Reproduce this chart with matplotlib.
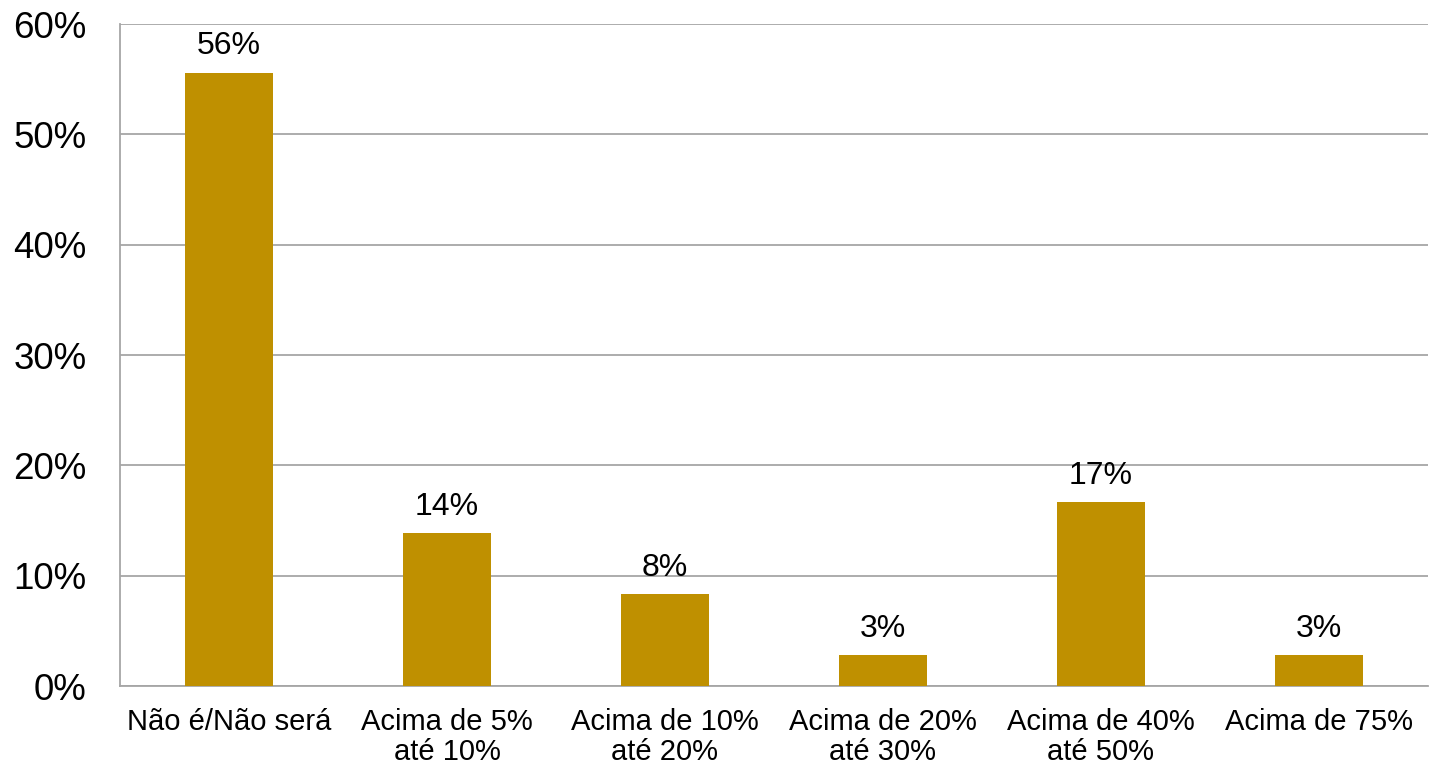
import matplotlib.pyplot as plt
from matplotlib.ticker import FuncFormatter

categories = ['Não é/Não será', 'Acima de 5%\naté 10%', 'Acima de 10%\naté 20%',
              'Acima de 20%\naté 30%', 'Acima de 40%\naté 50%', 'Acima de 75%']
values = [55.6, 13.9, 8.3, 2.8, 16.7, 2.8]
labels = ['56%', '14%', '8%', '3%', '17%', '3%']

plt.rcParams['font.family'] = ['Liberation Sans', 'DejaVu Sans']

fig = plt.figure(figsize=(14.3, 7.67), dpi=100)
ax = fig.add_axes([0.0839, 0.1056, 0.9147, 0.8631])

x = list(range(len(categories)))
ax.bar(x, values, width=0.4, color='#BF9000', zorder=3)
for i, v in enumerate(values):
    ax.annotate(labels[i], (i, v), xytext=(0, 13), textcoords='offset points',
                ha='center', va='baseline', fontsize=23)

ax.set_xlim(-0.5, len(categories) - 0.5)
ax.set_ylim(0, 60)
ax.set_yticks(range(0, 61, 10))
ax.yaxis.set_major_formatter(FuncFormatter(lambda v, p: f'{v:.0f}%'))
ax.set_xticks(x)
ax.set_xticklabels(categories, fontsize=21, linespacing=1.1)
ax.tick_params(axis='y', labelsize=26.5, length=0, pad=24)
ax.tick_params(axis='x', length=0, pad=16)

ax.grid(axis='y', color='#A6A6A6', linewidth=1.3, zorder=0)
ax.spines['right'].set_visible(False)
ax.spines['top'].set_visible(False)
ax.spines['left'].set_color('#A6A6A6')
ax.spines['bottom'].set_color('#A6A6A6')
ax.spines['left'].set_linewidth(1.3)
ax.spines['bottom'].set_linewidth(1.3)

plt.savefig('out.png')
